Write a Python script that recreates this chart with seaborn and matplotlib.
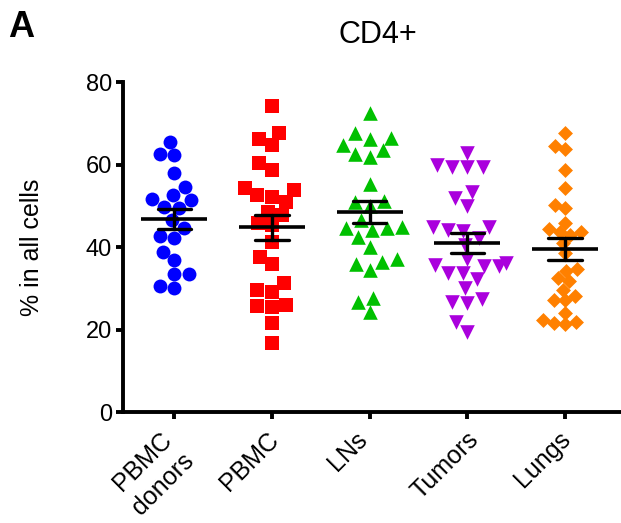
import numpy as np
import pandas as pd
import matplotlib
matplotlib.use("Agg")
import matplotlib.pyplot as plt
import matplotlib.transforms as mtransforms
import seaborn as sns

# ---- data ----
categories = ["PBMC\ndonors", "PBMC", "LNs", "Tumors", "Lungs"]

pbmc_donors = [65.5, 62.5, 62.3, 57.9, 54.6, 52.6, 51.4, 51.6, 49.6, 49.5,
               46.5, 44.7, 42.3, 42.7, 38.9, 36.8, 33.4, 33.4, 30.0, 30.6]
pbmc = [74.3, 66.2, 67.6, 64.7, 60.4, 58.7, 53.8, 54.4, 52.2, 52.6, 51.0,
        48.6, 47.8, 45.3, 45.9, 41.3, 37.7, 35.9, 31.2, 29.2, 29.6, 25.7,
        25.5, 25.9, 21.6, 16.8]
lns = [72.4, 66.5, 67.6, 66.3, 64.7, 63.5, 62.5, 61.7, 55.2, 50.0, 50.8,
       51.2, 46.6, 44.9, 44.1, 44.7, 44.5, 42.5, 40.1, 37.1, 36.0, 34.4,
       36.4, 27.7, 26.6, 24.2]
tumors = [62.9, 59.3, 59.3, 59.3, 59.9, 52.0, 53.3, 49.9, 44.8, 44.1, 44.0,
          44.8, 40.5, 42.1, 36.2, 35.4, 37.0, 33.6, 33.6, 32.2, 35.4, 35.6,
          30.0, 26.7, 26.5, 27.3, 21.9, 19.5]
lungs = [67.6, 64.5, 63.7, 58.7, 54.4, 50.3, 49.4, 45.9, 42.9, 43.7, 44.3,
         43.7, 41.0, 38.5, 34.3, 32.4, 34.6, 31.8, 29.7, 27.2, 27.2, 28.1,
         23.9, 21.9, 21.5, 21.3, 22.3]
series = [pbmc_donors, pbmc, lns, tumors, lungs]
yticks = [0, 20, 40, 60, 80]

colors = ["#0000FF", "#FF0000", "#00C000", "#AA00DD", "#FF8000"]
markers = ["o", "s", "^", "v", "D"]
sizes = [10, 10, 10.5, 10.5, 7.6]

df = pd.concat([pd.DataFrame({"group": c, "value": v})
                for c, v in zip(categories, series)], ignore_index=True)

# ---- figure ----
sns.set_style("ticks")
plt.rcParams["font.family"] = ["Liberation Sans", "DejaVu Sans"]
plt.rcParams["text.color"] = "black"
plt.rcParams["axes.labelcolor"] = "black"
plt.rcParams["xtick.color"] = "black"
plt.rcParams["ytick.color"] = "black"

fig, ax = plt.subplots(figsize=(6.21, 5.23), dpi=100)
fig.subplots_adjust(left=0.198, right=0.998, bottom=0.2122, top=0.8432)

for cat, color, marker, size in zip(categories, colors, markers, sizes):
    sub = df[df["group"] == cat]
    sns.swarmplot(data=sub, x="group", y="value", order=categories,
                  color=color, marker=marker, size=size, linewidth=0,
                  ax=ax, zorder=2, warn_thresh=1)

sns.pointplot(data=df, x="group", y="value", order=categories,
              errorbar="se", color="black", markers="_", markersize=48,
              markeredgewidth=2.6, linestyle="none", capsize=0.34,
              err_kws={"linewidth": 2.4, "zorder": 5}, ax=ax, zorder=6)

ax.set_xlim(-0.525, 4.56)
ax.set_ylim(0, 80)
ax.set_yticks(yticks)
ax.set_xlabel("")
ax.set_ylabel("% in all cells", fontsize=18, labelpad=30, color="black")

sns.despine(ax=ax)
for sp in ("left", "bottom"):
    ax.spines[sp].set_linewidth(2.8)
    ax.spines[sp].set_color("black")
ax.tick_params(axis="both", width=2.8, length=5, color="black",
               labelcolor="black", direction="out")
ax.tick_params(axis="y", labelsize=17, pad=3)
ax.tick_params(axis="x", labelsize=18, pad=6)

offset = mtransforms.ScaledTranslation(-0.22, 0, fig.dpi_scale_trans)
for lab in ax.get_xticklabels():
    lab.set_rotation(45)
    lab.set_ha("center")
    lab.set_va("top")
    lab.set_linespacing(1.35)
    lab.set_multialignment("right")
    lab.set_transform(lab.get_transform() + offset)

fig.text(0.6087, 0.9178, "CD4+", fontsize=22, ha="center", va="baseline")
fig.text(0.013, 0.929, "A", fontsize=26, fontweight="bold", ha="left", va="baseline")

fig.savefig("out.png", dpi=100)
